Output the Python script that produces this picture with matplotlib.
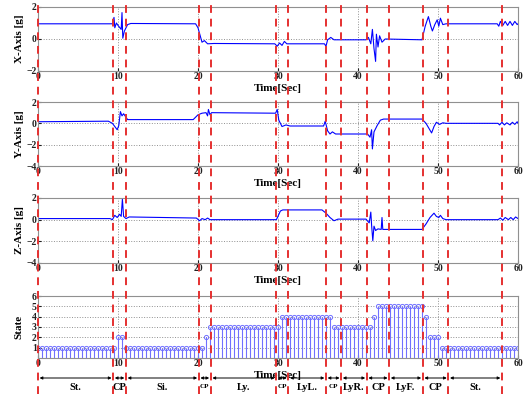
import numpy as np
import matplotlib
matplotlib.use('Agg')
import matplotlib.pyplot as plt
import matplotlib.transforms as mtransforms

plt.rcParams['font.family'] = ['Liberation Serif', 'DejaVu Serif']
plt.rcParams['font.weight'] = 'bold'

# accelerometer signals, key points (time [s], value [g])
x_t = [0, 9.3, 9.5, 9.6, 9.8, 10.0, 10.4, 10.5, 10.6, 10.8, 11.2, 11.6, 19.7, 20.0, 20.5, 20.8, 21.2, 22,
       29.6, 29.9, 30.2, 30.5, 30.8, 31.1, 35.8, 36.0, 36.2, 36.6, 37.0, 41.0, 41.3, 41.6, 41.8, 42.0,
       42.2, 42.3, 42.5, 42.7, 43.0, 43.4, 48.0, 48.4, 48.8, 49.1, 49.3, 49.6, 49.9, 50.1, 50.3, 50.6,
       51.0, 57.4, 57.6, 57.8, 58.1, 58.4, 58.7, 59.0, 59.3, 59.6, 59.9, 60]
x_v = [0.95, 0.95, 1.35, 0.7, 1.0, 0.85, 0.6, 1.65, 0.05, 0.5, 0.9, 0.97, 0.95, 0.7, -0.2, -0.1, -0.3, -0.28,
       -0.3, -0.45, -0.25, -0.4, -0.15, -0.3, -0.3, -0.45, -0.05, 0.1, -0.05, -0.05, 0.1, -0.3, 0.6, -0.6,
       -1.4, 0.3, -0.5, 0.2, -0.2, 0.0, -0.05, 0.8, 1.4, 0.8, 0.5, 0.9, 1.2, 0.8, 1.3, 0.9,
       0.95, 0.95, 0.8, 1.1, 0.85, 1.1, 0.85, 1.1, 0.85, 1.1, 0.9, 0.95]

y_t = [0, 8.8, 9.3, 9.7, 9.9, 10.1, 10.3, 10.5, 10.7, 11.2, 19.4, 20.0, 20.5, 21.0, 21.2, 21.3, 21.5, 21.7,
       29.7, 29.9, 30.1, 30.5, 31.0, 31.5, 35.7, 35.9, 36.2, 36.5, 36.8, 37.2, 41.2, 41.5, 41.7, 41.8,
       42.0, 42.4, 42.8, 43.2, 48.0, 48.5, 49.2, 49.5, 49.8, 50.2, 50.6, 51.0, 57.5, 57.7, 58.0, 58.3,
       58.6, 59.0, 59.3, 59.6, 59.9, 60]
y_v = [0.15, 0.2, 0.0, -0.4, -0.6, -0.2, 1.1, 0.7, 0.9, 0.35, 0.35, 0.8, 0.95, 1.0, 0.7, 1.3, 0.8, 1.0,
       0.95, 1.3, 0.3, -0.3, -0.15, -0.25, -0.25, 0.2, -0.7, -1.0, -0.8, -1.0, -1.0, -1.3, -0.6, -2.4,
       -0.8, -0.2, 0.3, 0.4, 0.4, 0.0, -0.9, -0.3, 0.1, -0.1, 0.05, 0.0, 0.0, -0.15, 0.1, -0.15,
       0.05, -0.15, 0.1, -0.1, 0.15, 0.0]

z_t = [0, 9.0, 9.3, 9.6, 9.9, 10.2, 10.4, 10.55, 10.7, 11.0, 11.4, 19.8, 20.2, 20.5, 20.9, 21.2, 21.5,
       29.8, 30.3, 30.6, 35.5, 36.0, 36.5, 37.0, 37.5, 41.0, 41.4, 41.6, 41.7, 41.85, 42.0, 42.2, 42.5,
       42.9, 43.0, 43.1, 48.0, 48.5, 49.0, 49.5, 49.8, 50.1, 50.3, 50.6, 51.0, 57.5, 57.8, 58.1, 58.4,
       58.8, 59.1, 59.4, 59.7, 60]
z_v = [0.1, 0.1, 0.0, 0.4, 0.2, 0.5, 0.3, 1.9, 0.3, 0.1, 0.25, 0.15, -0.1, 0.1, 0.0, 0.15, 0.0,
       0.0, 0.8, 0.9, 0.9, 0.6, 0.2, -0.1, 0.05, 0.05, -0.3, 0.7, -0.5, -1.95, -0.6, -1.0, -0.85,
       -0.9, 0.2, -0.9, -0.9, -0.4, 0.2, 0.6, 0.3, 0.2, 0.4, 0.1, 0.0, 0.0, 0.15, -0.05, 0.2,
       0.0, 0.2, 0.0, 0.25, 0.1]

# state sampled every 0.5 s
state_t = np.arange(0, 60.5, 0.5)
state_v = ([1] * 20 + [2] * 2 + [1] * 20 + [2] * 1 + [3] * 18 + [4] * 13 + [3] * 10
           + [4] * 1 + [5] * 12 + [4] * 1 + [2] * 3 + [1] * 20)

# activity boundaries and segment names
bounds = [0, 9.4, 11.0, 20.1, 21.6, 29.8, 31.3, 36.0, 37.9, 41.1, 43.9, 48.1, 51.3, 58.0]
seg_names = ['St.', 'CP', 'Si.', 'CP', 'Ly.', 'CP', 'LyL.', 'CP', 'LyR.', 'CP', 'LyF.', 'CP', 'St.']
small_seg = [False, False, False, True, False, True, False, True, False, False, False, False, False]

fig = plt.figure(figsize=(5.24, 3.94), dpi=100)
W, H = 524.0, 394.0
left, right = 38, 518
panels = [(7, 71), (102, 166), (198, 263), (296, 358)]
axes = []
for top, bot in panels:
    ax = fig.add_axes([left / W, 1 - bot / H, (right - left) / W, (bot - top) / H])
    axes.append(ax)

signals = [(x_t, x_v, 'X-Axis [g]', (-2, 2), [-2, 0, 2]),
           (y_t, y_v, 'Y-Axis [g]', (-4, 2), [-4, -2, 0, 2]),
           (z_t, z_v, 'Z-Axis [g]', (-4, 2), [-4, -2, 0, 2])]

for ax, (t, v, lab, lim, ticks) in zip(axes[:3], signals):
    ax.plot(t, v, color='#0000ff', lw=0.8)
    ax.set_ylim(*lim)
    ax.set_yticks(ticks)
    ax.set_ylabel(lab, fontsize=8, fontweight='bold', labelpad=2)

ax = axes[3]
ml, sl, bl = ax.stem(state_t, state_v, basefmt=' ')
plt.setp(sl, color='#7070ff', lw=0.8)
plt.setp(ml, color='#7070ff', markerfacecolor='none', markersize=3, markeredgewidth=0.7)
ax.set_ylim(0, 6)
ax.set_yticks([1, 2, 3, 4, 5, 6])
ax.set_ylabel('State', fontsize=8, fontweight='bold', labelpad=6)

for ax in axes:
    ax.set_xlim(0, 60)
    ax.set_xticks([0, 10, 20, 30, 40, 50, 60])
    ax.grid(True, color='#909090', ls=':', lw=0.7)
    ax.tick_params(direction='in', length=2, labelsize=7, pad=1, colors='#202020')
    for s in ax.spines.values():
        s.set_color('#909090')
    ax.set_xlabel('Time[Sec]', fontsize=8, fontweight='bold', labelpad=2)
    for lb in ax.get_xticklabels() + ax.get_yticklabels():
        lb.set_fontweight('bold')

# red dashed boundary lines across the whole figure
trans = mtransforms.blended_transform_factory(axes[0].transData, fig.transFigure)
for b in bounds:
    fig.add_artist(plt.Line2D([b, b], [0, 1], transform=trans, color='#e53030',
                              ls=(0, (4, 3)), lw=1.4, clip_on=False))

# segment arrows and names
for i, name in enumerate(seg_names):
    a, b = bounds[i], bounds[i + 1]
    axes[0].annotate('', xy=(b - 0.2, 1 - 378 / H), xytext=(a + 0.2, 1 - 378 / H),
                     xycoords=trans, textcoords=trans, annotation_clip=False,
                     arrowprops=dict(arrowstyle='<|-|>', color='black', lw=0.7,
                                     mutation_scale=4, shrinkA=0, shrinkB=0))
    fs = 5 if small_seg[i] else 7.5
    axes[0].text((a + b) / 2, 1 - 387 / H, name, transform=trans, ha='center', va='center',
                 fontsize=fs, fontweight='bold')

fig.savefig('out.png', dpi=100)
